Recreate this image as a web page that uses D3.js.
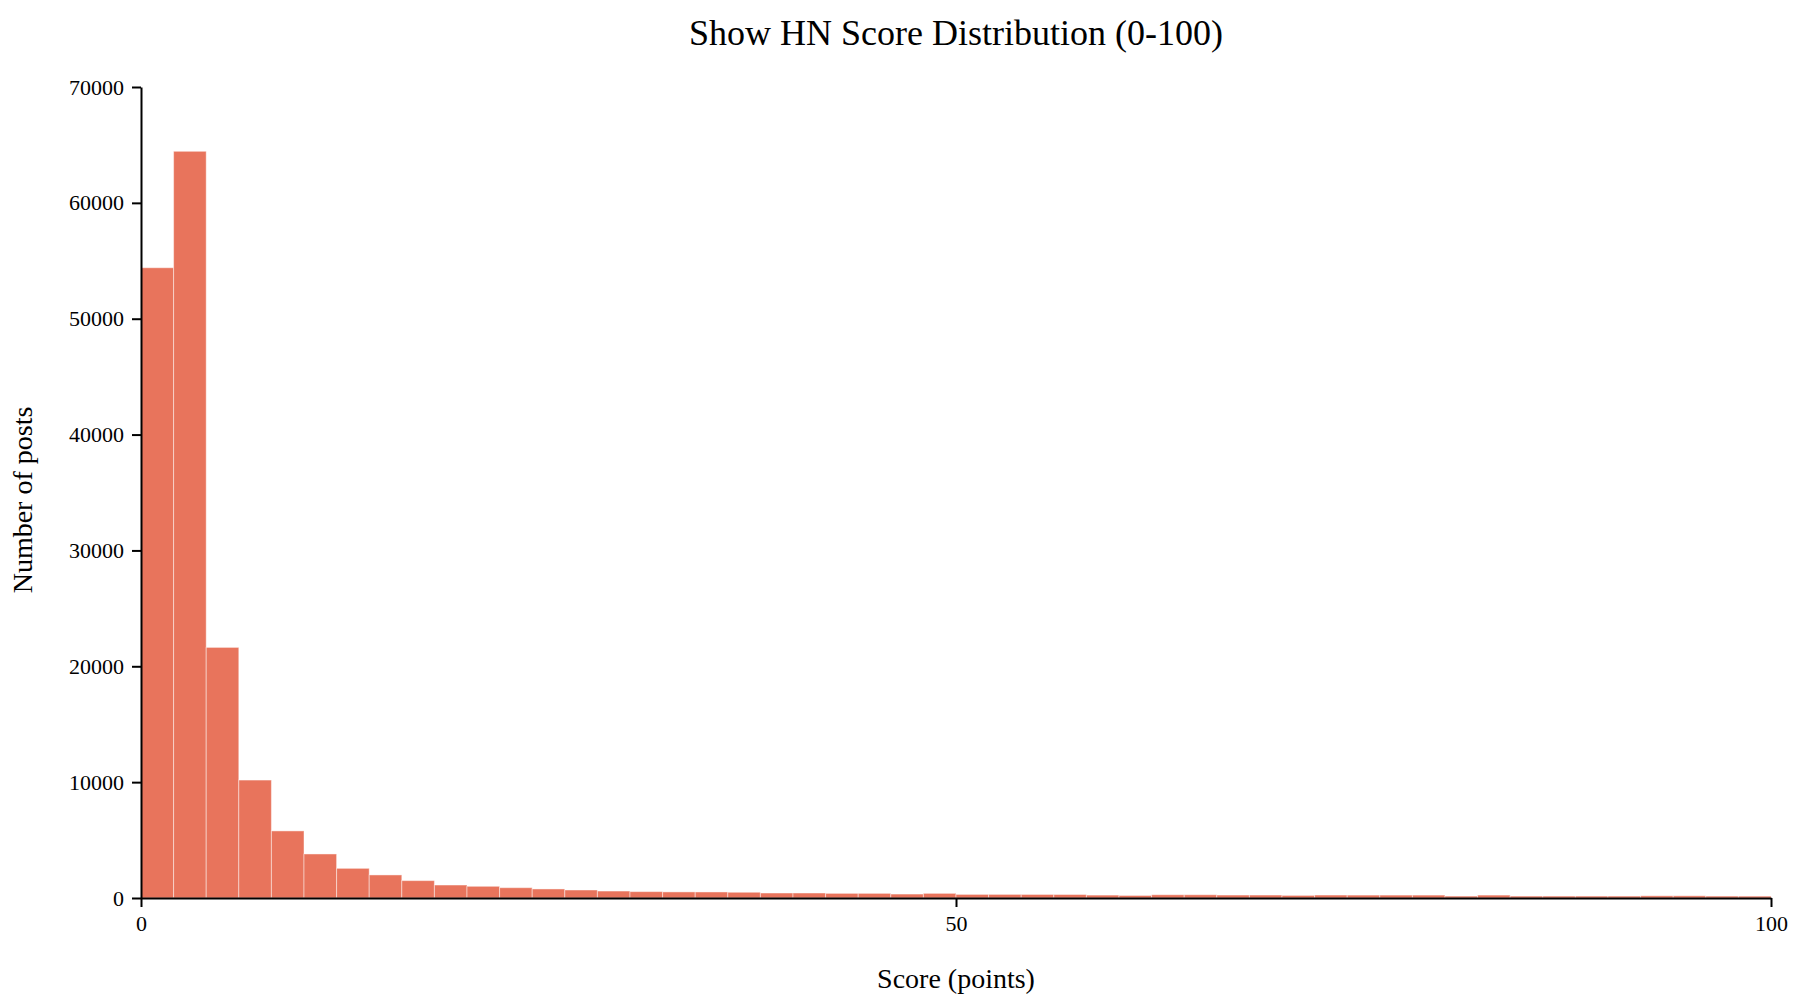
<!DOCTYPE html>
<html>
<head>
<meta charset="utf-8">
<script src="https://cdn.jsdelivr.net/npm/d3@7"></script>
<style>
  body { margin: 0; background: #fff; }
  text { font-family: "Liberation Serif", "Times New Roman", serif; fill: #000; }
</style>
</head>
<body>
<svg id="chart"></svg>
<script>
const binEdges = [0, 2, 4, 6, 8, 10, 12, 14, 16, 18, 20, 22, 24, 26, 28, 30, 32, 34, 36, 38,
  40, 42, 44, 46, 48, 50, 52, 54, 56, 58, 60, 62, 64, 66, 68, 70, 72, 74, 76, 78,
  80, 82, 84, 86, 88, 90, 92, 94, 96, 98, 100];

const postCounts = [54400, 64450, 21630, 10180, 5790, 3800, 2560, 1990, 1500, 1120,
  1010, 890, 780, 690, 600, 550, 525, 520, 495, 430,
  430, 400, 400, 340, 400, 310, 310, 305, 300, 250,
  220, 280, 280, 255, 255, 225, 255, 250, 250, 250,
  165, 250, 165, 165, 165, 165, 190, 190, 165, 160];

const yTicks = [0, 10000, 20000, 30000, 40000, 50000, 60000, 70000];
const xTicks = [0, 50, 100];

const width = 1800, height = 1000;
const margin = { top: 87, right: 29, bottom: 102, left: 141 };

const svg = d3.select("#chart")
  .attr("width", width)
  .attr("height", height);

const x = d3.scaleLinear()
  .domain([0, 100])
  .range([margin.left, width - margin.right]);

const y = d3.scaleLinear()
  .domain([0, 70000])
  .range([height - margin.bottom, margin.top]);

const bins = postCounts.map((c, i) => ({ x0: binEdges[i], x1: binEdges[i + 1], count: c }));

svg.append("g")
  .selectAll("rect")
  .data(bins)
  .enter()
  .append("rect")
  .attr("x", d => x(d.x0))
  .attr("width", d => x(d.x1) - x(d.x0))
  .attr("y", d => y(d.count))
  .attr("height", d => y(0) - y(d.count))
  .attr("fill", "#e8745c")
  .attr("stroke", "#fff")
  .attr("stroke-opacity", 0.45)
  .attr("stroke-width", 1);

const xAxis = svg.append("g")
  .attr("transform", `translate(0,${height - margin.bottom})`)
  .call(d3.axisBottom(x).tickValues(xTicks).tickSize(9).tickSizeOuter(0).tickPadding(8));

const yAxis = svg.append("g")
  .attr("transform", `translate(${margin.left},0)`)
  .call(d3.axisLeft(y).tickValues(yTicks).tickFormat(d3.format("d")).tickSize(9).tickSizeOuter(0).tickPadding(8));

[xAxis, yAxis].forEach(g => {
  g.selectAll("text").style("font-size", "22px").style("font-family", "'Liberation Serif', serif");
  g.selectAll("line, path").attr("stroke", "#000").attr("stroke-width", 2);
});

svg.append("text")
  .attr("x", (margin.left + width - margin.right) / 2)
  .attr("y", 45)
  .attr("text-anchor", "middle")
  .style("font-size", "36px")
  .text("Show HN Score Distribution (0-100)");

svg.append("text")
  .attr("x", (margin.left + width - margin.right) / 2)
  .attr("y", 988)
  .attr("text-anchor", "middle")
  .style("font-size", "28px")
  .text("Score (points)");

svg.append("text")
  .attr("transform", "translate(32,500) rotate(-90)")
  .attr("text-anchor", "middle")
  .style("font-size", "28px")
  .text("Number of posts");
</script>
</body>
</html>
